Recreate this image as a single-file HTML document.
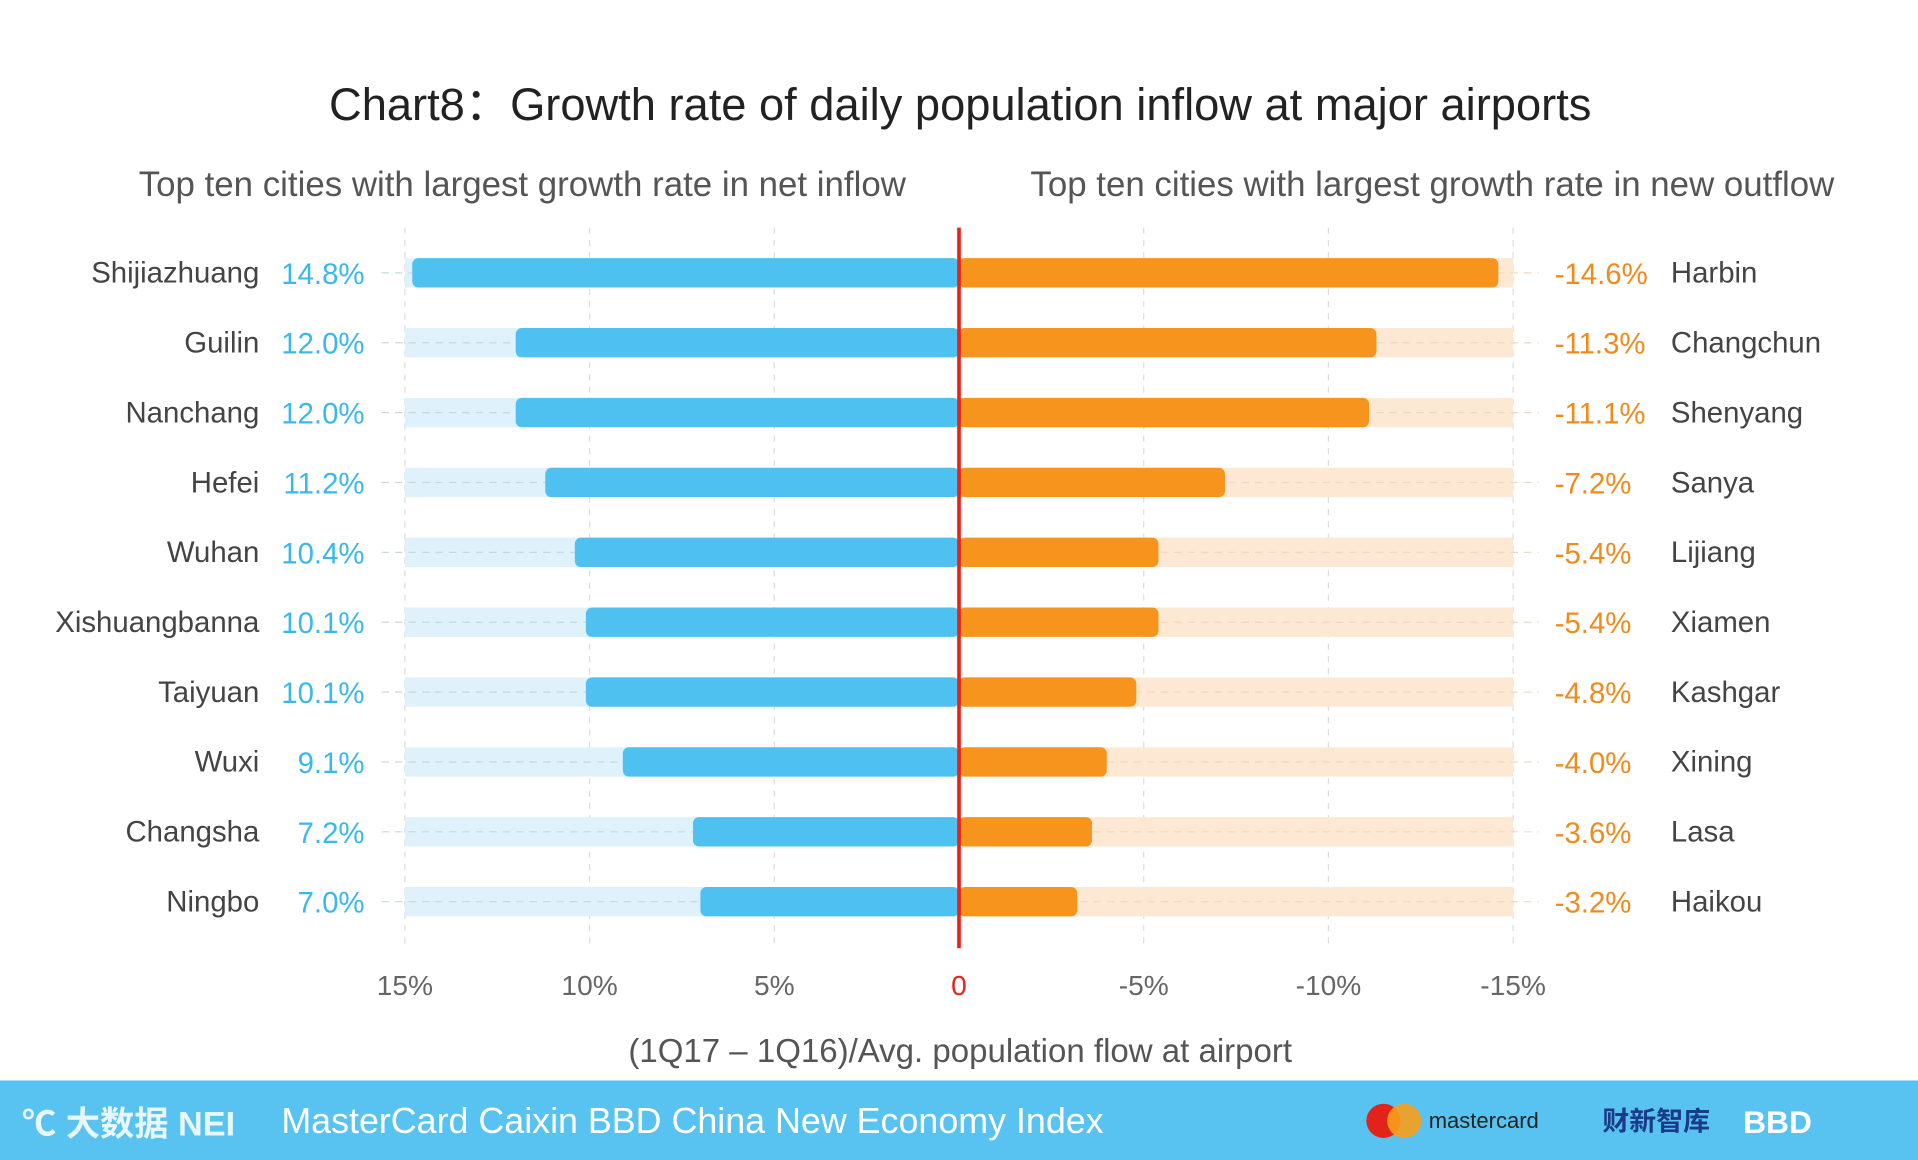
<!DOCTYPE html>
<html><head><meta charset="utf-8"><style>
html,body{margin:0;padding:0;background:#fff;}
svg{display:block;font-family:"Liberation Sans","Noto Sans CJK SC",sans-serif;}
</style></head><body>
<svg id="chart" width="1918" height="1160" viewBox="0 0 1568 948" preserveAspectRatio="none" xmlns="http://www.w3.org/2000/svg">
<rect width="1568" height="948" fill="#fff"/>
<text x="785" y="98" text-anchor="middle" font-size="37" fill="#222">Chart8：Growth rate of daily population inflow at major airports</text>
<text x="427" y="160" text-anchor="middle" font-size="28.5" fill="#555">Top ten cities with largest growth rate in net inflow</text>
<text x="1171" y="160" text-anchor="middle" font-size="28.5" fill="#555">Top ten cities with largest growth rate in new outflow</text>
<g id="grid"></g><g id="bars"></g><g id="labels"></g>
<line x1="784" y1="186" x2="784" y2="775" stroke="#e8221b" stroke-width="3"/>
<text x="785" y="868" text-anchor="middle" font-size="27" fill="#555">(1Q17 – 1Q16)/Avg. population flow at airport</text>
<rect x="0" y="883" width="1568" height="65" fill="#58c3f0"/>
<text x="18" y="928" font-size="28" fill="#e8f6fd" font-weight="bold">℃ 大数据 NEI</text>
<text x="230" y="926" font-size="29.3" fill="#fff">MasterCard Caixin BBD China New Economy Index</text>
<circle cx="1131" cy="916" r="14" fill="#e2231a"/>
<circle cx="1148" cy="916" r="14" fill="#f79e1b" opacity="0.9"/>
<text x="1168" y="922" font-size="18" fill="#222">mastercard</text>
<text x="1310" y="924" font-size="22" fill="#1a3a8a" font-weight="bold">财新智库</text>
<text x="1425" y="926" font-size="26" fill="#fff" font-weight="bold">BBD</text>
</svg>
<script>
const leftCities=["Shijiazhuang","Guilin","Nanchang","Hefei","Wuhan","Xishuangbanna","Taiyuan","Wuxi","Changsha","Ningbo"];
const leftValues=[14.8,12.0,12.0,11.2,10.4,10.1,10.1,9.1,7.2,7.0];
const rightCities=["Harbin","Changchun","Shenyang","Sanya","Lijiang","Xiamen","Kashgar","Xining","Lasa","Haikou"];
const rightValues=[-14.6,-11.3,-11.1,-7.2,-5.4,-5.4,-4.8,-4.0,-3.6,-3.2];
const leftTicks=[15,10,5];
const rightTicks=[-5,-10,-15];
const NS="http://www.w3.org/2000/svg";
const zeroX=784, unit=(1238-332)/30;
const xL=v=>zeroX-v*unit, xR=v=>zeroX+(-v)*unit;
const rowY=i=>223+i*57.1;
function mk(tag,attrs,parent,text){const e=document.createElementNS(NS,tag);for(const k in attrs)e.setAttribute(k,attrs[k]);if(text!==undefined)e.textContent=text;parent.appendChild(e);return e;}
const grid=document.getElementById('grid'),bars=document.getElementById('bars'),labels=document.getElementById('labels');
leftTicks.forEach(t=>{const x=xL(t);
const l=mk('line',{x1:x,y1:186,x2:x,y2:775,stroke:'#ddd','stroke-dasharray':'5,5'},grid);


const tx=mk('text',{x:x,y:813,'text-anchor':'middle','font-size':23,fill:'#666'},labels,t+'%');

});
rightTicks.forEach(t=>{const x=xR(t);
const l=mk('line',{x1:x,y1:186,x2:x,y2:775,stroke:'#ddd','stroke-dasharray':'5,5'},grid);


const tx=mk('text',{x:x,y:813,'text-anchor':'middle','font-size':23,fill:'#666'},labels,t+'%');

});
const z=mk('text',{x:zeroX,y:813,'text-anchor':'middle','font-size':23,fill:'#e8221b'},labels,'0');


leftValues.forEach((v,i)=>{const y=rowY(i);
const tr=mk('rect',{x:xL(15),y:y-12,width:zeroX-xL(15),height:24,fill:'#dff1fa'},bars);


const gl=mk('line',{x1:312,y1:y,x2:zeroX,y2:y,stroke:'#c5d9e3','stroke-dasharray':'6,5'},bars);


const b=mk('rect',{x:xL(v),y:y-12,width:zeroX-xL(v),height:24,rx:5,fill:'#4fc1f0'},bars);


const c=mk('text',{x:212,y:y+8,'text-anchor':'end','font-size':24,fill:'#444'},labels,leftCities[i]);


const vl=mk('text',{x:298,y:y+9,'text-anchor':'end','font-size':24,fill:'#3ab8ec'},labels,v.toFixed(1)+'%');

});
rightValues.forEach((v,i)=>{const y=rowY(i);
const tr=mk('rect',{x:zeroX,y:y-12,width:xR(-15)-zeroX,height:24,fill:'#fde9d3'},bars);


const gl=mk('line',{x1:zeroX,y1:y,x2:1258,y2:y,stroke:'#eed8c0','stroke-dasharray':'6,5'},bars);


const b=mk('rect',{x:zeroX,y:y-12,width:xR(v)-zeroX,height:24,rx:5,fill:'#f7941d'},bars);


const vl=mk('text',{x:1271,y:y+9,'font-size':24,fill:'#f08a1c'},labels,v.toFixed(1)+'%');


const c=mk('text',{x:1366,y:y+8,'font-size':24,fill:'#444'},labels,rightCities[i]);

});
</script>
</body></html>
